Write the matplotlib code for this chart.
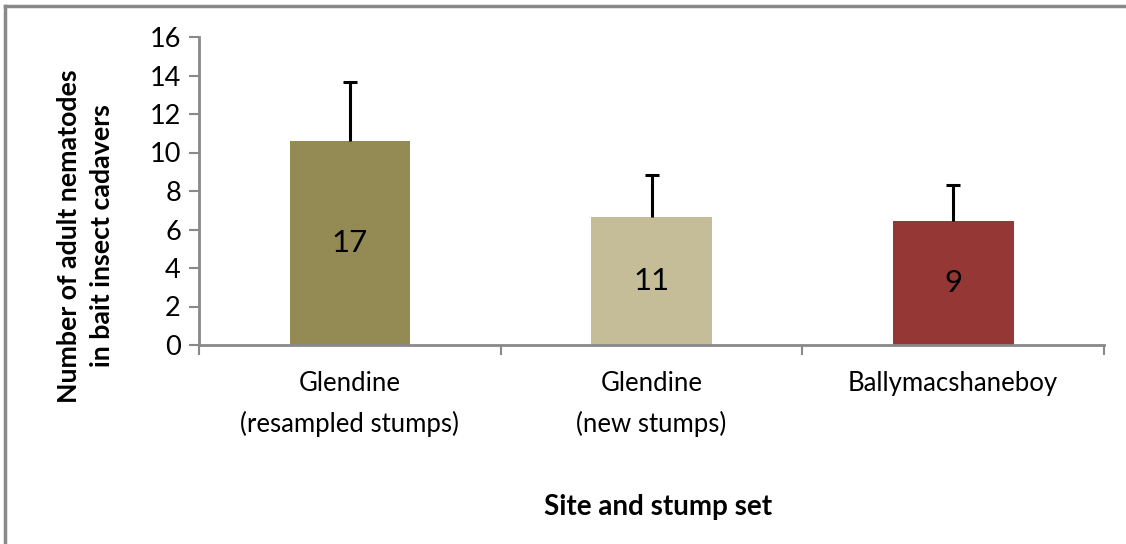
import matplotlib.pyplot as plt
import numpy as np
from matplotlib.lines import Line2D

# data
sites = ["Glendine\n(resampled stumps)", "Glendine\n(new stumps)", "Ballymacshaneboy"]
mean_adults = [10.6, 6.65, 6.45]
err_upper = [3.05, 2.2, 1.85]
n_cadavers = ["17", "11", "9"]
bar_colors = ["#948A54", "#C4BD97", "#953735"]

plt.rcParams['font.family'] = ['Lato', 'DejaVu Sans']
axis_grey = "#898989"

fig = plt.figure(figsize=(11.26, 5.44), dpi=100)
ax = fig.add_axes([199 / 1126, 199 / 544, 905 / 1126, 308 / 544])

x = np.arange(len(sites))
means = np.array(mean_adults)
errs = np.array(err_upper)
ax.bar(x, means, width=0.4, color=bar_colors, zorder=2)
# upper error only, cap at the top end
ax.errorbar(x, means, yerr=[np.zeros(len(x)), errs], fmt='none',
            ecolor='black', elinewidth=2.2, capsize=0, zorder=3)
ax.scatter(x, means + errs, marker='_', s=110, color='black', linewidths=2.2, zorder=3)

for xi, h, lab in zip(x, means, n_cadavers):
    ax.text(xi, h / 2, lab, ha='center', va='center', fontsize=22.5, color='black')

ax.set_xlim(-0.5, len(sites) - 0.5)
ax.set_ylim(0, 16)
ax.set_yticks(range(0, 17, 2))
ax.set_xticks(np.arange(-0.5, len(sites), 1.0))
ax.set_xticklabels([])
ax.tick_params(axis='x', direction='out', length=7, width=1.5, color=axis_grey)
ax.tick_params(axis='y', direction='out', length=7, width=1.5, color=axis_grey,
               labelsize=19.5, pad=6)

for side in ['top', 'right']:
    ax.spines[side].set_visible(False)
for side in ['left', 'bottom']:
    ax.spines[side].set_color(axis_grey)
    ax.spines[side].set_linewidth(2)

# category labels sit between the boundary ticks
for xi, name in zip(x, sites):
    ax.text(xi, -0.085, name, transform=ax.get_xaxis_transform(), ha='center',
            va='top', fontsize=18.5, linespacing=1.7)

fig.text(86 / 1126, 1 - 236 / 544, "Number of adult nematodes\nin bait insect cadavers",
         rotation=90, ha='center', va='center', fontsize=19.3, fontweight='bold',
         linespacing=1.45)
fig.text(658 / 1126, 1 - 507 / 544, "Site and stump set", ha='center', va='center',
         fontsize=20, fontweight='bold')

# chart area border (left and top visible)
fig.add_artist(Line2D([5 / 1126, 5 / 1126], [0, 1 - 6 / 544], transform=fig.transFigure,
                      color=axis_grey, lw=2.5))
fig.add_artist(Line2D([5 / 1126, 1], [1 - 6 / 544, 1 - 6 / 544], transform=fig.transFigure,
                      color=axis_grey, lw=2.5))

fig.savefig("out.png", dpi=100)
